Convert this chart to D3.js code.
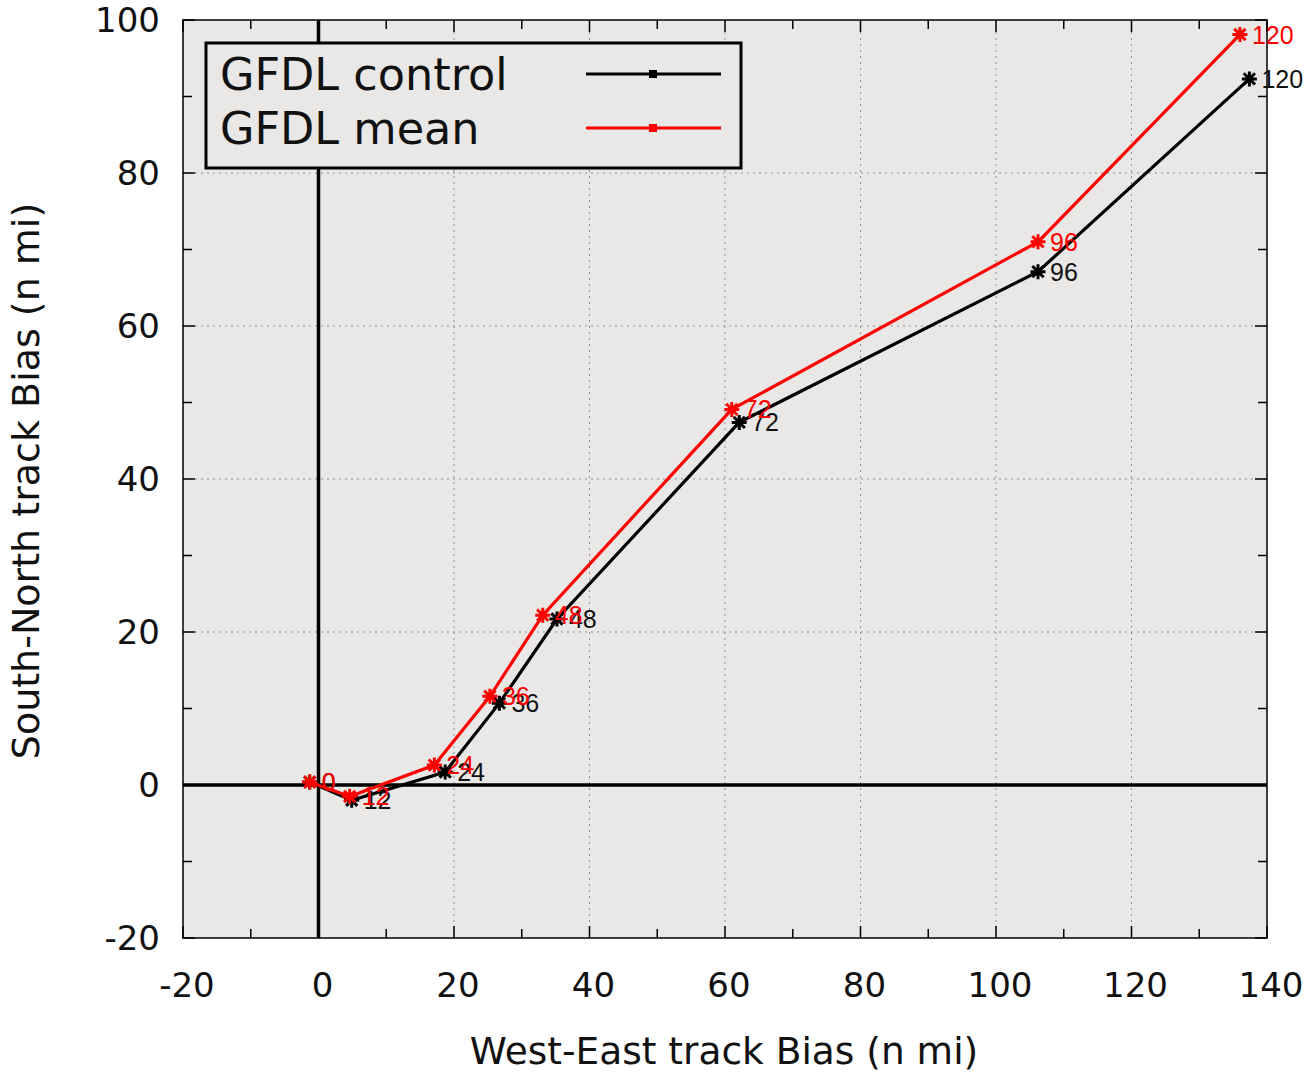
<!DOCTYPE html>
<html><head><meta charset="utf-8">
<script src="https://cdn.jsdelivr.net/npm/d3@7"></script>
<style>body{margin:0;background:#fff}svg{display:block}</style>
</head><body><svg id="c" width="1311" height="1074"></svg>
<script>
const leadTimes = ["0","12","24","36","48","72","96","120"];
const controlX = [-1.3, 4.9, 18.7, 26.7, 35.2, 62.1, 106.2, 137.4];
const controlY = [0.4, -2.0, 1.7, 10.7, 21.7, 47.4, 67.1, 92.3];
const meanX = [-1.3, 4.6, 17.1, 25.3, 33.1, 61.0, 106.2, 136.0];
const meanY = [0.4, -1.5, 2.6, 11.6, 22.2, 49.1, 71.0, 98.1];
const xTicks = [-20, 0, 20, 40, 60, 80, 100, 120, 140];
const yTicks = [-20, 0, 20, 40, 60, 80, 100];
const seriesNames = ["GFDL control", "GFDL mean"];
const seriesColors = ["#000000", "#ff0000"];

const svg = d3.select("#c");
const L = 183, R = 1267, T = 20, B = 938;
const x = d3.scaleLinear().domain([-20, 140]).range([L, R]);
const y = d3.scaleLinear().domain([-20, 100]).range([B, T]);
const tickFont = "DejaVu Sans, sans-serif";

svg.append("rect").attr("x", L).attr("y", T).attr("width", R - L).attr("height", B - T).attr("fill", "#e9e8e6");

// grid
const g = svg.append("g");
xTicks.filter(v => v !== 0 && v > -20 && v < 140).forEach(v => {
  g.append("line").attr("x1", x(v)).attr("x2", x(v)).attr("y1", T).attr("y2", B)
    .attr("stroke", "#8f8f8f").attr("stroke-width", 1).attr("stroke-dasharray", "2,4");
});
yTicks.filter(v => v !== 0 && v > -20 && v < 100).forEach(v => {
  g.append("line").attr("x1", L).attr("x2", R).attr("y1", y(v)).attr("y2", y(v))
    .attr("stroke", "#8f8f8f").attr("stroke-width", 1).attr("stroke-dasharray", "2,4");
});

// ticks (major & minor) on all sides
const xMinor = d3.range(-20, 141, 10), yMinor = d3.range(-20, 101, 10);
xMinor.forEach(v => {
  const len = (v % 20 === 0) ? 12 : 9;
  g.append("line").attr("x1", x(v)).attr("x2", x(v)).attr("y1", B).attr("y2", B - len).attr("stroke", "#000").attr("stroke-width", 1.5);
  g.append("line").attr("x1", x(v)).attr("x2", x(v)).attr("y1", T).attr("y2", T + len).attr("stroke", "#000").attr("stroke-width", 1.5);
});
yMinor.forEach(v => {
  const len = (v % 20 === 0) ? 12 : 9;
  g.append("line").attr("y1", y(v)).attr("y2", y(v)).attr("x1", L).attr("x2", L + len).attr("stroke", "#000").attr("stroke-width", 1.5);
  g.append("line").attr("y1", y(v)).attr("y2", y(v)).attr("x1", R).attr("x2", R - len).attr("stroke", "#000").attr("stroke-width", 1.5);
});

// zero axes
g.append("line").attr("x1", x(0)).attr("x2", x(0)).attr("y1", T).attr("y2", B).attr("stroke", "#000").attr("stroke-width", 3.5);
g.append("line").attr("x1", L).attr("x2", R).attr("y1", y(0)).attr("y2", y(0)).attr("stroke", "#000").attr("stroke-width", 3.5);

// border
svg.append("rect").attr("x", L).attr("y", T).attr("width", R - L).attr("height", B - T)
  .attr("fill", "none").attr("stroke", "#000").attr("stroke-width", 1.5);

// tick labels
xTicks.forEach(v => {
  svg.append("text").attr("x", x(v) + 4).attr("y", 997).attr("text-anchor", "middle")
    .attr("font-family", tickFont).attr("font-size", 34).attr("fill", "#111").text(v);
});
yTicks.forEach(v => {
  svg.append("text").attr("x", 160).attr("y", y(v) + 12).attr("text-anchor", "end")
    .attr("font-family", tickFont).attr("font-size", 34).attr("fill", "#111").text(v);
});

// axis titles
svg.append("text").attr("x", 724).attr("y", 1064).attr("text-anchor", "middle")
  .attr("font-family", tickFont).attr("font-size", 37.5).attr("fill", "#111").text("West-East track Bias (n mi)");
svg.append("text").attr("transform", "translate(39,481) rotate(-90)").attr("text-anchor", "middle")
  .attr("font-family", tickFont).attr("font-size", 38).attr("fill", "#111").text("South-North track Bias (n mi)");

// series
const series = [
  {name: seriesNames[0], color: seriesColors[0], xs: controlX, ys: controlY},
  {name: seriesNames[1], color: seriesColors[1], xs: meanX, ys: meanY}
];
const line = d3.line().x(d => x(d[0])).y(d => y(d[1]));
function star(sel, cx, cy, r, color) {
  const p = `M${cx - r},${cy}L${cx + r},${cy}M${cx},${cy - r}L${cx},${cy + r}` +
    `M${cx - r * 0.75},${cy - r * 0.75}L${cx + r * 0.75},${cy + r * 0.75}M${cx - r * 0.75},${cy + r * 0.75}L${cx + r * 0.75},${cy - r * 0.75}`;
  sel.append("path").attr("d", p).attr("stroke", color).attr("stroke-width", 3).attr("fill", "none");
}
series.forEach(s => {
  const pts = s.xs.map((v, i) => [v, s.ys[i]]);
  svg.append("path").attr("d", line(pts)).attr("fill", "none").attr("stroke", s.color).attr("stroke-width", 3.2);
  const mg = svg.append("g");
  pts.forEach((p, i) => {
    star(mg, x(p[0]), y(p[1]), 7.5, s.color);
    mg.append("text").attr("x", x(p[0]) + 12).attr("y", y(p[1]) + 9)
      .attr("font-family", "Liberation Sans, Arial, sans-serif").attr("font-size", 25)
      .attr("fill", s.color === "#000000" ? "#111" : s.color).text(leadTimes[i]);
  });
});

// legend
const lg = svg.append("g");
lg.append("rect").attr("x", 206).attr("y", 43).attr("width", 535).attr("height", 125)
  .attr("fill", "#e9e8e6").attr("stroke", "#000").attr("stroke-width", 3);
series.forEach((s, i) => {
  const ly = 74 + i * 54;
  lg.append("text").attr("x", 220).attr("y", ly + 16).attr("font-family", tickFont)
    .attr("font-size", 44.5).attr("fill", "#111").text(s.name);
  lg.append("line").attr("x1", 586).attr("x2", 721).attr("y1", ly).attr("y2", ly)
    .attr("stroke", s.color).attr("stroke-width", 3);
  lg.append("rect").attr("x", 649).attr("y", ly - 4).attr("width", 8).attr("height", 8).attr("fill", s.color);
});
</script></body></html>
